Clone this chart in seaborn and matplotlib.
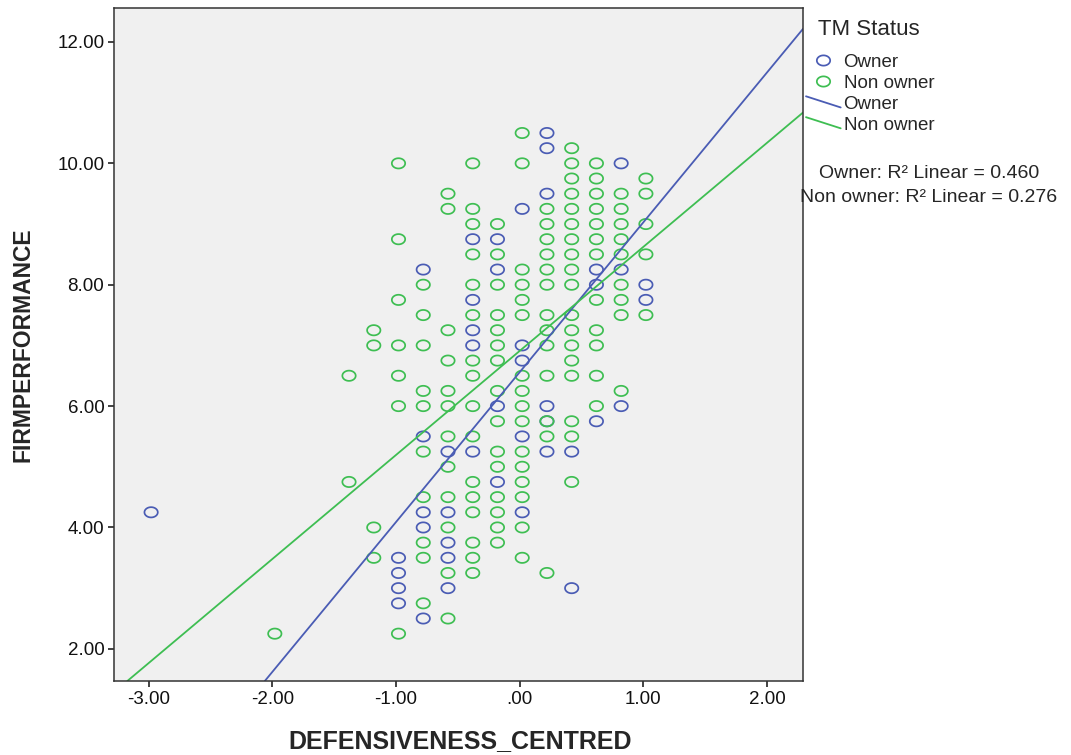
import numpy as np
import pandas as pd
import matplotlib
matplotlib.use("Agg")
import matplotlib.pyplot as plt
import seaborn as sns
from matplotlib.path import Path
from matplotlib.lines import Line2D
from matplotlib.legend_handler import HandlerBase

# ---------------- data ----------------
owner_x = [-2.98,
           -0.98, -0.98, -0.98, -0.98,
           -0.78, -0.78, -0.78, -0.78, -0.78,
           -0.58, -0.58, -0.58, -0.58, -0.58,
           -0.38, -0.38, -0.38, -0.38, -0.38,
           -0.18, -0.18, -0.18, -0.18,
           0.02, 0.02, 0.02, 0.02, 0.02,
           0.22, 0.22, 0.22, 0.22, 0.22, 0.22,
           0.42, 0.42,
           0.62, 0.62, 0.62,
           0.82, 0.82, 0.82,
           1.02, 1.02]
owner_y = [4.25,
           3.5, 3.25, 3.0, 2.75,
           8.25, 5.5, 4.25, 4.0, 2.5,
           5.25, 4.25, 3.75, 3.5, 3.0,
           8.75, 7.75, 7.25, 7.0, 5.25,
           8.75, 8.25, 6.0, 4.75,
           9.25, 7.0, 6.75, 5.5, 4.25,
           10.5, 10.25, 9.5, 6.0, 5.75, 5.25,
           5.25, 3.0,
           8.25, 8.0, 5.75,
           10.0, 8.25, 6.0,
           8.0, 7.75]

non_owner_cols = [-1.98, -1.38, -1.18, -0.98, -0.78, -0.58, -0.38, -0.18,
                  0.02, 0.22, 0.42, 0.62, 0.82, 1.02]
non_owner_vals = [
    [2.25],
    [6.5, 4.75],
    [7.25, 7.0, 4.0, 3.5],
    [10.0, 8.75, 7.75, 7.0, 6.5, 6.0, 2.25],
    [8.0, 7.5, 7.0, 6.25, 6.0, 5.25, 4.5, 3.75, 3.5, 2.75],
    [9.5, 9.25, 7.25, 6.75, 6.25, 6.0, 5.5, 5.0, 4.5, 4.0, 3.25, 2.5],
    [10.0, 9.25, 9.0, 8.5, 8.0, 7.5, 6.75, 6.5, 6.0, 5.5, 4.75, 4.5, 4.25,
     3.75, 3.5, 3.25],
    [9.0, 8.5, 8.0, 7.5, 7.25, 7.0, 6.75, 6.25, 5.75, 5.25, 5.0, 4.5, 4.25,
     4.0, 3.75],
    [10.5, 10.0, 8.25, 8.0, 7.75, 7.5, 6.5, 6.25, 6.0, 5.75, 5.25, 5.0, 4.75,
     4.5, 4.0, 3.5],
    [9.25, 9.0, 8.75, 8.5, 8.25, 8.0, 7.5, 7.25, 7.0, 6.5, 5.75, 5.5, 3.25],
    [10.25, 10.0, 9.75, 9.5, 9.25, 9.0, 8.75, 8.5, 8.25, 8.0, 7.5, 7.25, 7.0,
     6.75, 6.5, 5.75, 5.5, 4.75],
    [10.0, 9.75, 9.5, 9.25, 9.0, 8.75, 8.5, 7.75, 7.25, 7.0, 6.5, 6.0],
    [9.5, 9.25, 9.0, 8.75, 8.5, 8.0, 7.75, 7.5, 6.25],
    [9.75, 9.5, 9.0, 8.5, 7.5],
]

groups = ["Owner", "Non owner"]
fit_intercept = [6.56, 6.91]
fit_slope = [2.47, 1.715]
r_squared = [0.460, 0.276]

x_ticks = [-3, -2, -1, 0, 1, 2]
y_ticks = [2, 4, 6, 8, 10, 12]

# ---------------- build table ----------------
no_x, no_y = [], []
for cx, vals in zip(non_owner_cols, non_owner_vals):
    for v in vals:
        no_x.append(cx)
        no_y.append(v)

df = pd.DataFrame({
    "DEFENSIVENESS_CENTRED": owner_x + no_x,
    "FIRMPERFORMANCE": owner_y + no_y,
    "TM Status": ["Owner"] * len(owner_x) + ["Non owner"] * len(no_x),
})

# ---------------- style ----------------
sns.set_style("ticks")
plt.rcParams["font.family"] = ["Liberation Sans", "DejaVu Sans"]

colors = {"Owner": "#4A5CB4", "Non owner": "#3EBE52"}

theta = np.linspace(0, 2 * np.pi, 80)
ellipse = Path(np.column_stack([1.3 * np.cos(theta), np.sin(theta)]), closed=True)

fig = plt.figure(figsize=(10.71, 7.55), dpi=100)
ax = fig.add_axes([114 / 1071, 1 - 681 / 755, (803 - 114) / 1071, (681 - 8) / 755])
ax.set_facecolor("#F0F0F0")

for g in groups:
    sub = df[df["TM Status"] == g]
    sns.scatterplot(data=sub, x="DEFENSIVENESS_CENTRED", y="FIRMPERFORMANCE",
                    ax=ax, marker=ellipse, s=92, facecolors="none",
                    edgecolor=colors[g], linewidth=1.25, legend=False)

for g, b0, b1 in zip(groups, fit_intercept, fit_slope):
    ax.axline((0, b0), slope=b1, color=colors[g], lw=1.3)

ax.set_xlim(-3.28, 2.29)
ax.set_ylim(1.47, 12.56)


def fmt(v):
    s = f"{v:.2f}"
    if s.startswith("0"):
        s = s[1:]
    return s


ax.set_xticks(x_ticks)
ax.set_xticklabels([fmt(v) for v in x_ticks])
ax.set_yticks(y_ticks)
ax.set_yticklabels([fmt(v) for v in y_ticks])
ax.tick_params(axis="both", direction="out", length=4, width=1.2,
               color="#222222", labelsize=13.5, labelcolor="#111111", pad=3)

for sp in ax.spines.values():
    sp.set_visible(True)
    sp.set_color("#333333")
    sp.set_linewidth(1.1)

ax.set_xlabel("DEFENSIVENESS_CENTRED", fontsize=18, fontweight="bold")
ax.set_ylabel("FIRMPERFORMANCE", fontsize=16.5, fontweight="bold")
ax.xaxis.set_label_coords(0.503, -0.072)
ax.yaxis.set_label_coords(-0.115, 0.5)


# ---------------- legend ----------------
class SlantLineHandler(HandlerBase):
    def create_artists(self, legend, orig_handle, xdescent, ydescent, width,
                       height, fontsize, trans):
        x0 = -xdescent
        x1 = -xdescent + width
        ym = -ydescent + height / 2
        ln = Line2D([x0, x1], [ym + 0.45 * height, ym - 0.4 * height],
                    color=orig_handle.get_color(),
                    lw=orig_handle.get_linewidth(), transform=trans)
        return [ln]


handles = []
labels = []
for g in groups:
    handles.append(Line2D([], [], linestyle="none", marker=ellipse,
                          markersize=9.6, markerfacecolor="none",
                          markeredgecolor=colors[g], markeredgewidth=1.25))
    labels.append(g)
line_handles = []
for g in groups:
    h = Line2D([], [], color=colors[g], lw=1.3)
    line_handles.append(h)
    handles.append(h)
    labels.append(g)

hmap = {h: SlantLineHandler() for h in line_handles}
leg = fig.legend(handles, labels, handler_map=hmap, title="  TM Status",
                 loc="upper left", bbox_to_anchor=(806 / 1071, 1 - 19 / 755),
                 frameon=False, fontsize=13.5, title_fontsize=16,
                 handlelength=1.85, handletextpad=0.15, labelspacing=0.2,
                 borderpad=0, borderaxespad=0, alignment="left")
leg._legend_box.sep = 10

fig.text(929 / 1071, 1 - 174 / 755,
         f"Owner: R² Linear = {r_squared[0]:.3f}",
         ha="center", va="center", fontsize=14)
fig.text(929 / 1071, 1 - 197 / 755,
         f"Non owner: R² Linear = {r_squared[1]:.3f}",
         ha="center", va="center", fontsize=14)

fig.savefig("out.png", dpi=100)
